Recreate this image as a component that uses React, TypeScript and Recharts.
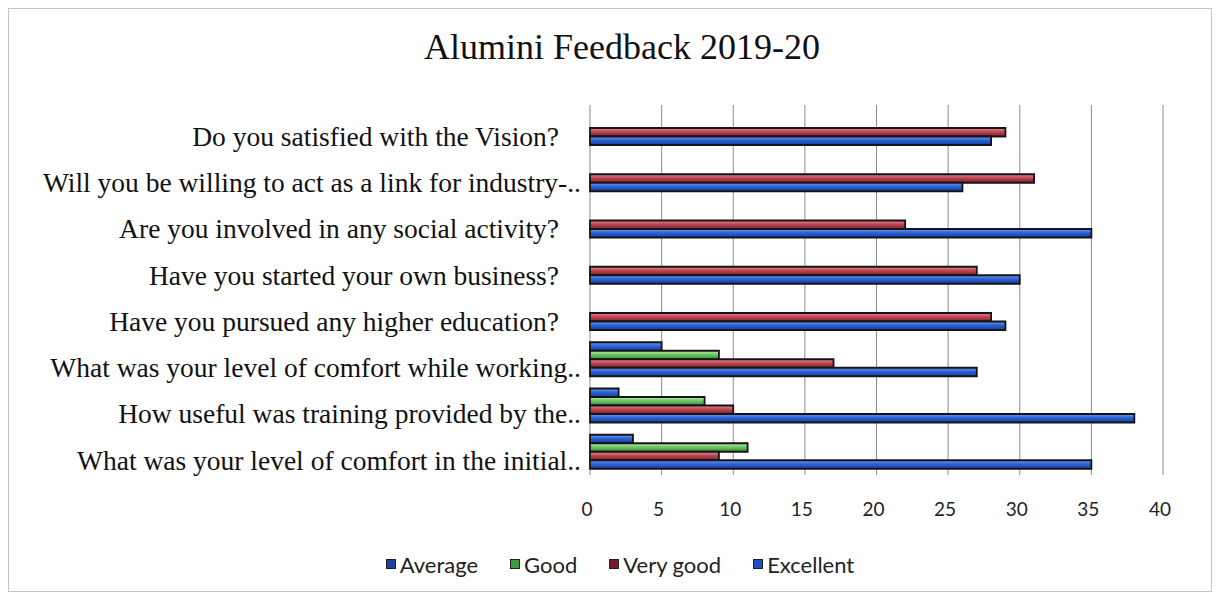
import { BarChart, Bar, XAxis, YAxis, CartesianGrid, Legend } from "recharts";

const categories = [
  "Do you satisfied with the Vision?",
  "Will you be willing to act as a link for industry-..",
  "Are you involved in any social activity?",
  "Have you started your own business?",
  "Have you pursued any higher education?",
  "What was your level of comfort while working..",
  "How useful was training provided by the..",
  "What was your level of comfort in the initial..",
];
const average = [0, 0, 0, 0, 0, 5, 2, 3];
const good = [0, 0, 0, 0, 0, 9, 8, 11];
const veryGood = [29, 31, 22, 27, 28, 17, 10, 9];
const excellent = [28, 26, 35, 30, 29, 27, 38, 35];
const xTicks = [0, 5, 10, 15, 20, 25, 30, 35, 40];

const series = [
  { key: "average", name: "Average", grad: "gBlue", icon: "#1d3fa6" },
  { key: "good", name: "Good", grad: "gGreen", icon: "#3f9a44" },
  { key: "veryGood", name: "Very good", grad: "gRed", icon: "#7a1830" },
  { key: "excellent", name: "Excellent", grad: "gBlue", icon: "#1e50c4" },
];

const data = categories.map((q, i) => ({
  q,
  average: average[i],
  good: good[i],
  veryGood: veryGood[i],
  excellent: excellent[i],
}));

const QuestionTick = (props: any) => {
  const { x, y, payload } = props;
  const label = String(payload.value);
  const cut = label.endsWith("..");
  return (
    <text
      x={x + (cut ? 0 : -22)}
      y={y + 8}
      dy="0.35em"
      textAnchor="end"
      fill="#111"
      fontSize={27.5}
      fontFamily="'Liberation Serif', serif"
    >
      {label}
    </text>
  );
};

const LegendBox = () => (
  <div
    style={{
      display: "flex",
      justifyContent: "center",
      gap: 32,
      paddingLeft: 20,
      fontFamily: "Lato, sans-serif",
      fontSize: 22,
      color: "#222",
      height: 26,
      alignItems: "center",
    }}
  >
    {series.map((s) => (
      <span key={s.key} style={{ display: "flex", alignItems: "center", gap: 4 }}>
        <span style={{ width: 8, height: 8, background: s.icon, border: "1px solid #222" }} />
        {s.name}
      </span>
    ))}
  </div>
);

export default function App() {
  return (
    <div
      style={{
        position: "relative",
        width: 1202,
        height: 582,
        border: "1px solid #c4c4c4",
        background: "#fff",
      }}
    >
      <div
        style={{
          position: "absolute",
          top: 17,
          left: 12,
          width: 1202,
          textAlign: "center",
          fontFamily: "'Liberation Serif', serif",
          fontSize: 36,
          color: "#111",
        }}
      >
        Alumini Feedback 2019-20
      </div>
      <BarChart
        width={1202}
        height={582}
        data={data}
        layout="vertical"
        barSize={8.5}
        barGap={0}
        margin={{ top: 96, right: 48, bottom: 30, left: 0 }}
      >
        <defs>
          <linearGradient id="gBlue" x1="0" y1="0" x2="0" y2="1">
            <stop offset="0%" stopColor="#6f9cf0" />
            <stop offset="45%" stopColor="#2a62d6" />
            <stop offset="100%" stopColor="#173f9c" />
          </linearGradient>
          <linearGradient id="gGreen" x1="0" y1="0" x2="0" y2="1">
            <stop offset="0%" stopColor="#b6ecae" />
            <stop offset="45%" stopColor="#6cc866" />
            <stop offset="100%" stopColor="#3b8a3a" />
          </linearGradient>
          <linearGradient id="gRed" x1="0" y1="0" x2="0" y2="1">
            <stop offset="0%" stopColor="#e68a92" />
            <stop offset="45%" stopColor="#bf4652" />
            <stop offset="100%" stopColor="#7c1e2c" />
          </linearGradient>
        </defs>
        <CartesianGrid horizontal={false} stroke="#8c8c8c" strokeWidth={1} />
        <XAxis
          type="number"
          domain={[0, 40]}
          ticks={xTicks}
          axisLine={false}
          tickLine={false}
          tickMargin={22}
          height={60}
          tick={{ fill: "#222", fontSize: 19, fontFamily: "Lato, sans-serif", dx: -3 }}
        />
        <YAxis
          type="category"
          dataKey="q"
          width={581}
          axisLine={false}
          tickLine={false}
          tickMargin={3}
          interval={0}
          tick={<QuestionTick />}
        />
        <Legend
          verticalAlign="bottom"
          content={<LegendBox />}
          wrapperStyle={{ top: 542, left: 0, width: 1202 }}
        />
        {series.map((s) => (
          <Bar
            key={s.key}
            dataKey={s.key}
            name={s.name}
            fill={`url(#${s.grad})`}
            stroke="#141414"
            strokeWidth={1.8}
            isAnimationActive={false}
          />
        ))}
      </BarChart>
    </div>
  );
}
